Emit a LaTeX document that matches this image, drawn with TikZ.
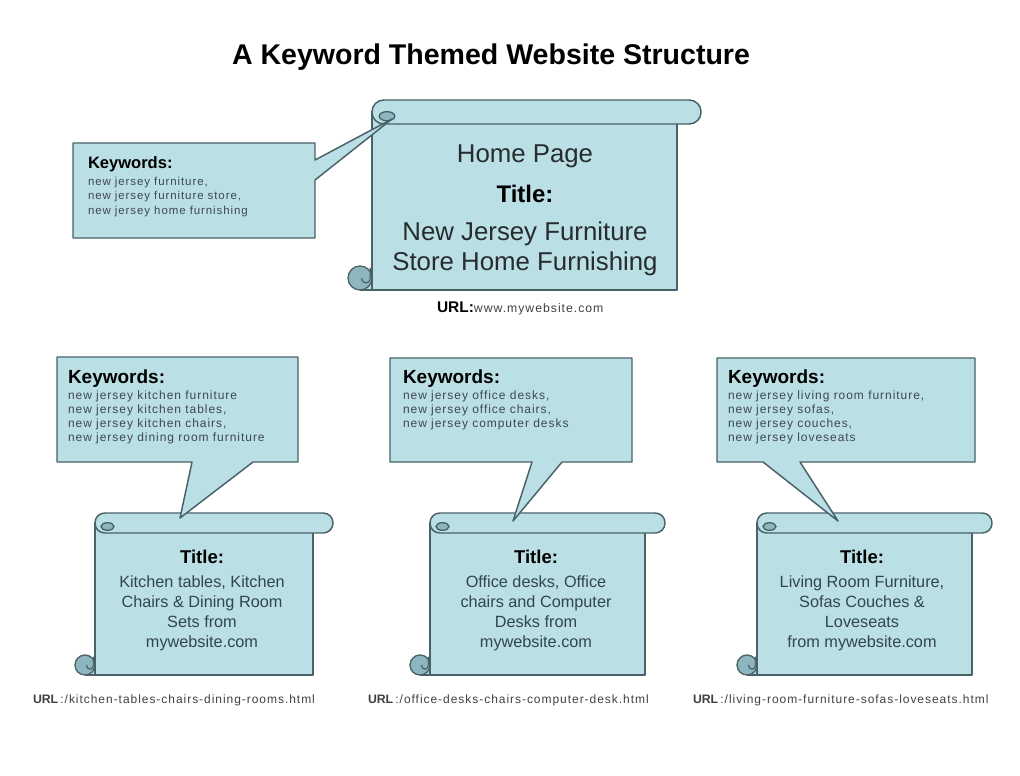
\documentclass[tikz,border=0pt]{standalone}
\usepackage{fontspec}
\setmainfont{Liberation Sans}
\newfontfamily\spaced[LetterSpace=8]{Liberation Sans}
\definecolor{sfill}{RGB}{186,223,229}
\definecolor{sline}{RGB}{72,98,104}
\definecolor{scurl}{RGB}{142,182,190}
\definecolor{kwtext}{RGB}{62,72,76}
\definecolor{ttext}{RGB}{50,70,76}
\definecolor{urltext}{RGB}{64,64,64}
\newcommand{\clines}[1]{\begin{tabular}[t]{@{}c@{}}#1\end{tabular}}
\newcommand{\llines}[1]{\begin{tabular}[t]{@{}l@{}}#1\end{tabular}}
\newcommand{\drawscroll}[5]{%
  \pgfmathsetmacro{\rc}{#5*0.75*0.98}%
  \fill[sfill] ({#1-#5},{#4-#5}) rectangle (#1,#4);
  \draw[shapestyle] (#1,{#3+#5}) rectangle (#2,#4);
  \draw[shapestyle] ({#1-#5},#4) -- (#1,#4);
  \draw[shapestyle, rounded corners=\rc pt] (#1,#3) rectangle ({#2+2*#5},{#3+2*#5});
  \draw[curlstyle] ({#1+1.25*#5},{#3+1.35*#5}) ellipse [x radius={0.65*#5}, y radius={0.38*#5}];
  \draw[curlstyle] ({#1-#5},{#4-#5}) circle [radius=#5];
  \draw[sline, line width=0.9pt] ({#1-0.15*#5},{#4-1.85*#5}) -- ({#1-0.15*#5},{#4-#5}) .. controls ({#1-0.15*#5},{#4-0.45*#5}) and ({#1-0.85*#5},{#4-0.45*#5}) .. ({#1-0.85*#5},{#4-#5});
}
\begin{document}
\begin{tikzpicture}[x=0.75pt,y=-0.75pt,
  every node/.style={inner sep=0pt, outer sep=0pt},
  shapestyle/.style={draw=sline, fill=sfill, line width=1.1pt, line join=round},
  curlstyle/.style={draw=sline, fill=scurl, line width=1pt},
  kwhead/.style={font=\bfseries, text=black},
  kwbody/.style={text=kwtext},
  urlstyle/.style={text=urltext}]
\useasboundingbox (0,0) rectangle (1020,775);
\fill[white] (0,0) rectangle (1020,775);

% page title
\node[anchor=base, font=\fontsize{21.4}{25}\selectfont\bfseries] (pagetitle) at (491,64) {A Keyword Themed Website Structure};

% scrolls
\drawscroll{372}{677}{100}{290}{12}
\drawscroll{95}{313}{513}{675}{10}
\drawscroll{430}{645}{513}{675}{10}
\drawscroll{757}{972}{513}{675}{10}

% tail tips
\coordinate (tipH) at (392,119);
\coordinate (tipK) at (180,518);
\coordinate (tipO) at (513,521);
\coordinate (tipL) at (838,521);

% callouts
\draw[shapestyle] (73,143) -- (315,143) -- (315,160) -- (tipH) -- (315,180) -- (315,238) -- (73,238) -- cycle;
\draw[shapestyle] (57,357) -- (298,357) -- (298,462) -- (253,462) -- (tipK) -- (192,462) -- (57,462) -- cycle;
\draw[shapestyle] (390,358) -- (632,358) -- (632,462) -- (562,462) -- (tipO) -- (532,462) -- (390,462) -- cycle;
\draw[shapestyle] (717,358) -- (975,358) -- (975,462) -- (800,462) -- (tipL) -- (763,462) -- (717,462) -- cycle;

% home page text
\node[anchor=base, text={rgb,255:red,40;green,44;blue,46}, font=\fontsize{19.35}{22.5}\selectfont] (homepage) at (525,162) {Home Page};
\node[anchor=base, text={rgb,255:red,40;green,44;blue,46}, font=\fontsize{19.35}{22.5}\selectfont] (hometitle) at (525,202)
  {\clines{{\fontsize{18}{22.5}\selectfont\bfseries\color{black}Title:}\\[6pt]New Jersey Furniture\\Store Home Furnishing}};
\node[anchor=base west, urlstyle] (homeurl) at (437,312)
  {{\fontsize{11.6}{14}\selectfont\bfseries\color{black}URL:}{\spaced\fontsize{9.2}{12}\selectfont www.mywebsite.com}};

% home keywords
\node[anchor=base west, kwbody, font=\spaced\fontsize{8.6}{10.9}\selectfont] (kwhome) at (88,168)
  {\llines{{\fontsize{12.4}{10.9}\selectfont\bfseries\color{black}\addfontfeature{LetterSpace=0}Keywords:}\\[1.9pt]new jersey furniture,\\new jersey furniture store,\\new jersey home furnishing}};

% lower keywords
\node[anchor=base west, kwbody, font=\spaced\fontsize{9}{10.5}\selectfont] (kwkitchen) at (68,383)
  {\llines{{\fontsize{14.25}{10.5}\selectfont\bfseries\color{black}\addfontfeature{LetterSpace=0}Keywords:}\\[1.5pt]new jersey kitchen furniture\\new jersey kitchen tables,\\new jersey kitchen chairs,\\new jersey dining room furniture}};
\node[anchor=base west, kwbody, font=\spaced\fontsize{9}{10.5}\selectfont] (kwoffice) at (403,383)
  {\llines{{\fontsize{14.25}{10.5}\selectfont\bfseries\color{black}\addfontfeature{LetterSpace=0}Keywords:}\\[1.5pt]new jersey office desks,\\new jersey office chairs,\\new jersey computer desks}};
\node[anchor=base west, kwbody, font=\spaced\fontsize{9}{10.5}\selectfont] (kwliving) at (728,383)
  {\llines{{\fontsize{14.25}{10.5}\selectfont\bfseries\color{black}\addfontfeature{LetterSpace=0}Keywords:}\\[1.5pt]new jersey living room furniture,\\new jersey sofas,\\new jersey couches,\\new jersey loveseats}};

% lower titles
\node[anchor=base, text=ttext, font=\fontsize{12.2}{15.2}\selectfont] (tkitchen) at (202,563)
  {\clines{{\fontsize{13.9}{15.2}\selectfont\bfseries\color{black}Title:}\\[2.8pt]Kitchen tables, Kitchen\\Chairs \& Dining Room\\Sets from\\mywebsite.com}};
\node[anchor=base, text=ttext, font=\fontsize{12.2}{15.2}\selectfont] (toffice) at (536,563)
  {\clines{{\fontsize{13.9}{15.2}\selectfont\bfseries\color{black}Title:}\\[2.8pt]Office desks, Office\\chairs and Computer\\Desks from\\mywebsite.com}};
\node[anchor=base, text=ttext, font=\fontsize{12.2}{15.2}\selectfont] (tliving) at (862,563)
  {\clines{{\fontsize{13.9}{15.2}\selectfont\bfseries\color{black}Title:}\\[2.8pt]Living Room Furniture,\\Sofas Couches \&\\Loveseats\\from mywebsite.com}};

% URLs
\node[anchor=base west, urlstyle] (ukitchen) at (33,703)
  {{\fontsize{9.2}{12}\selectfont\bfseries URL}\,{\spaced\fontsize{9}{12}\selectfont :/kitchen-tables-chairs-dining-rooms.html}};
\node[anchor=base west, urlstyle] (uoffice) at (368,703)
  {{\fontsize{9.2}{12}\selectfont\bfseries URL}\,{\spaced\fontsize{9}{12}\selectfont :/office-desks-chairs-computer-desk.html}};
\node[anchor=base west, urlstyle] (uliving) at (693,703)
  {{\fontsize{9.2}{12}\selectfont\bfseries URL}\,{\spaced\fontsize{9}{12}\selectfont :/living-room-furniture-sofas-loveseats.html}};
\end{tikzpicture}
\end{document}
